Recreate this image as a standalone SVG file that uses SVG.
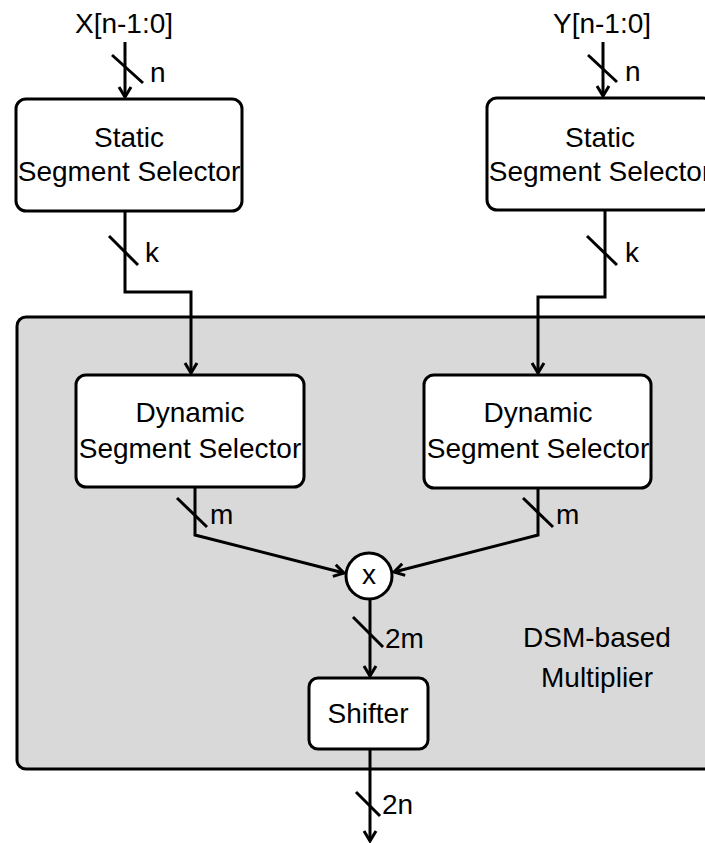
<svg xmlns="http://www.w3.org/2000/svg" width="705" height="843" viewBox="0 0 705 843">
  <style>
    .box { fill: #ffffff; stroke: #000000; stroke-width: 3; }
    .group { fill: #d9d9d9; stroke: #000000; stroke-width: 3; }
    .wire { fill: none; stroke: #000000; stroke-width: 3; stroke-linejoin: miter; }
    .bus { stroke: #000000; stroke-width: 3; }
    text { font-family: "Liberation Sans", Arial, sans-serif; font-size: 28px; fill: #000000; }
    .c { text-anchor: middle; }
  </style>
  <defs>
    <marker id="arr" viewBox="-12 -8 14 16" refX="0" refY="0" markerWidth="14" markerHeight="16" markerUnits="userSpaceOnUse" orient="auto">
      <path d="M-10,-6 L0,0 L-10,6" fill="none" stroke="#000000" stroke-width="3"/>
    </marker>
  </defs>

  <!-- DSM-based multiplier enclosure -->
  <g id="dsm-multiplier">
    <rect class="group" x="17" y="317" width="700" height="452" rx="9"/>
    <text class="c" x="597" y="647">DSM-based</text>
    <text class="c" x="597" y="687">Multiplier</text>
  </g>

  <!-- inputs -->
  <g id="input-x">
    <text class="c" x="124" y="33">X[n-1:0]</text>
  </g>
  <g id="input-y">
    <text class="c" x="602" y="33">Y[n-1:0]</text>
  </g>

  <g id="static-selector-x">
    <rect class="box" x="16" y="99" width="226" height="112" rx="10"/>
    <text class="c" x="129" y="147">Static</text>
    <text class="c" x="129" y="181">Segment Selector</text>
  </g>
  <g id="static-selector-y">
    <rect class="box" x="487" y="98" width="226" height="112" rx="10"/>
    <text class="c" x="600" y="147">Static</text>
    <text class="c" x="600" y="181">Segment Selector</text>
  </g>

  <g id="dynamic-selector-x">
    <rect class="box" x="76" y="375" width="228" height="112" rx="10"/>
    <text class="c" x="190" y="422">Dynamic</text>
    <text class="c" x="190" y="458">Segment Selector</text>
  </g>
  <g id="dynamic-selector-y">
    <rect class="box" x="424" y="375" width="227" height="113" rx="10"/>
    <text class="c" x="538" y="422">Dynamic</text>
    <text class="c" x="538" y="458">Segment Selector</text>
  </g>

  <g id="multiply">
    <circle class="box" cx="369" cy="576" r="23"/>
    <text class="c" x="369" y="584">x</text>
  </g>

  <g id="shifter">
    <rect class="box" x="309" y="678" width="119" height="71" rx="9"/>
    <text class="c" x="368" y="723">Shifter</text>
  </g>

  <!-- connectors with bus-width marks -->
  <g id="connectors">
    <path class="wire" d="M125,42 V97" marker-end="url(#arr)"/>
    <path class="wire" d="M603,42 V96" marker-end="url(#arr)"/>
    <path class="wire" d="M125,211 V292 H191 V373" marker-end="url(#arr)"/>
    <path class="wire" d="M605,210 V297 H538 V373" marker-end="url(#arr)"/>
    <path class="wire" d="M195,487 V535 L344,573" marker-end="url(#arr)"/>
    <path class="wire" d="M538,488 V535 L394,572" marker-end="url(#arr)"/>
    <path class="wire" d="M370,599 V676" marker-end="url(#arr)"/>
    <path class="wire" d="M370,749 V841" marker-end="url(#arr)"/>

    <line class="bus" x1="112" y1="55" x2="143" y2="83"/>
    <line class="bus" x1="588" y1="55" x2="617" y2="82"/>
    <line class="bus" x1="109" y1="236" x2="138" y2="265"/>
    <line class="bus" x1="587" y1="236" x2="617" y2="265"/>
    <line class="bus" x1="177" y1="498" x2="207" y2="527"/>
    <line class="bus" x1="523" y1="498" x2="553" y2="527"/>
    <line class="bus" x1="353" y1="617" x2="383" y2="647"/>
    <line class="bus" x1="356" y1="792" x2="380" y2="816"/>

    <text x="150" y="82">n</text>
    <text x="625" y="81">n</text>
    <text x="145" y="262">k</text>
    <text x="625" y="262">k</text>
    <text x="210" y="524">m</text>
    <text x="556" y="524">m</text>
    <text x="385" y="648">2m</text>
    <text x="382" y="814">2n</text>
  </g>
</svg>
